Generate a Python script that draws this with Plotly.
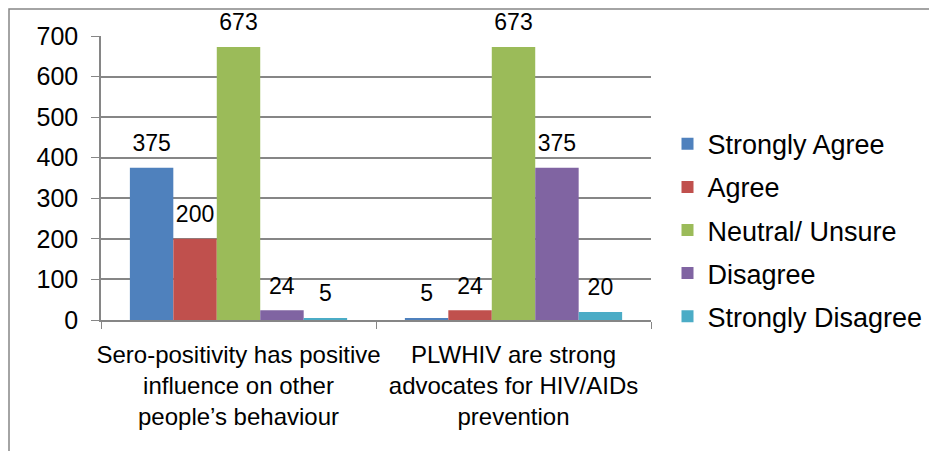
import plotly.graph_objects as go

categories = [
    "Sero-positivity has positive<br>influence on other<br>people\u2019s behaviour",
    "PLWHIV are strong<br>advocates for HIV/AIDs<br>prevention",
]
series_names = ["Strongly Agree", "Agree", "Neutral/ Unsure", "Disagree", "Strongly Disagree"]
strongly_agree = [375, 5]
agree = [200, 24]
neutral = [673, 673]
disagree = [24, 375]
strongly_disagree = [5, 20]
y_ticks = [0, 100, 200, 300, 400, 500, 600, 700]

colors = ["#4F81BD", "#C0504D", "#9BBB59", "#8064A2", "#4BACC6"]
values = [strongly_agree, agree, neutral, disagree, strongly_disagree]

# the page body has an 8px margin, so the figure is drawn 8px smaller
fig = go.Figure()
for i, (name, vals) in enumerate(zip(series_names, values)):
    # a small transparent second line lifts the label a bit above the bar
    labels = [f"<span style='font-size:23px'>{v}</span><br>"
              f"<span style='color:rgba(0,0,0,0)'>.</span>" for v in vals]
    fig.add_trace(go.Bar(
        x=categories, y=vals, name=name,
        marker=dict(color=colors[i], line=dict(width=0)),
        text=labels,
        textposition="outside",
        constraintext="none",
        textfont=dict(size=9, color="black"),
        cliponaxis=False,
        legendgroup=name,
    ))

fig.update_layout(
    width=929, height=443,
    margin=dict(l=93, r=286, t=28, b=131, autoexpand=False),
    barmode="group",
    bargap=0.21,
    bargroupgap=0,
    plot_bgcolor="white",
    paper_bgcolor="white",
    font=dict(family="Liberation Sans, Arial, sans-serif", size=24, color="black"),
    legend=dict(
        x=1.03, y=0.316, xanchor="left", yanchor="middle",
        font=dict(size=27), tracegroupgap=5,
        itemwidth=30,
    ),
    shapes=[dict(
        type="rect", xref="paper", yref="paper",
        x0=-92 / 550, x1=1.6, y0=-0.7, y1=1 + 27 / 284,
        line=dict(color="#868686", width=1.5), fillcolor="rgba(0,0,0,0)",
        layer="below",
    )],
)

fig.update_xaxes(
    showline=True, linecolor="#868686", linewidth=1.5,
    ticks="outside", tickson="boundaries", ticklen=7, tickcolor="#868686",
    tickfont=dict(size=24), tickangle=0, ticklabelstandoff=12,
)
fig.update_yaxes(
    range=[0, 700], tickvals=y_ticks,
    showgrid=True, gridcolor="#868686", gridwidth=1.5,
    showline=True, linecolor="#868686", linewidth=1.5,
    ticks="outside", ticklen=8, tickcolor="#868686",
    tickfont=dict(size=25),
    zeroline=False,
    ticklabelstandoff=8,
)

fig.write_html("out.html")
